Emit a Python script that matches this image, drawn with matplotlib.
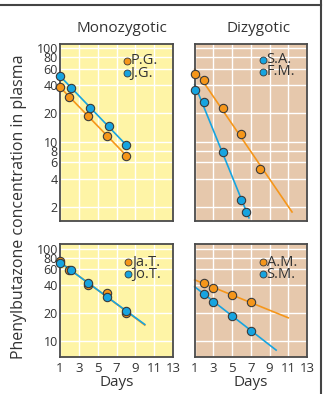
import numpy as np
import matplotlib
matplotlib.use("Agg")
import matplotlib.pyplot as plt
from matplotlib.lines import Line2D

plt.rcParams['font.family'] = ['Open Sans', 'DejaVu Sans']

# ---- data ----
# Monozygotic pair 1
pg_days = [1, 2, 4, 6, 8]
pg_vals = [38, 30, 18.8, 11.6, 7.1]
jg_days = [1, 2.2, 4.2, 6.2, 8]
jg_vals = [50, 37.4, 23.0, 14.7, 9.1]
# Dizygotic pair 1
sa_days = [1, 2, 4, 6, 8]
sa_vals = [52.8, 45.5, 22.6, 11.9, 5.1]
fm_days = [1, 2, 4, 6, 6.5]
fm_vals = [35.8, 26.5, 7.7, 2.4, 1.75]
# Monozygotic pair 2
jat_days = [1, 2, 4, 6, 8]
jat_vals = [73.5, 59, 40.6, 33, 20.1]
jot_days = [1, 2.2, 4, 6, 8]
jot_vals = [70, 59, 42.7, 29.9, 21.2]
# Dizygotic pair 2
am_days = [2, 3, 5, 7]
am_vals = [42.4, 37.4, 31.4, 26.1]
sm_days = [2, 3, 5, 7]
sm_vals = [32.4, 26.5, 18.8, 12.9]

# trend-line day ranges
pg_line = [1, 8]
jg_line = [1, 8]
sa_line = [1, 11.4]
fm_line = [1, 6.8]
jat_line = [1, 10]
jot_line = [1, 10]
am_line = [1, 11]
sm_line = [1, 9.7]

xticks = [1, 3, 5, 7, 9, 11, 13]
top_yticks = [2, 4, 6, 8, 10, 20, 40, 60, 80, 100]
bot_yticks = [10, 20, 40, 60, 80, 100]

ORANGE = '#F5961A'
BLUE = '#16A4E0'
YELLOW = '#FEF4A6'
TAN = '#E6C8AC'
EDGE = '#3a3a3a'

W, H = 325, 394
fig = plt.figure(figsize=(W / 100, H / 100), dpi=100)


def add_ax(x0, y0, x1, y1):
    return fig.add_axes([x0 / W, 1 - y1 / H, (x1 - x0) / W, (y1 - y0) / H])


def style(ax, bg, yticks, ylim, show_y, show_x):
    ax.set_facecolor(bg)
    ax.set_yscale('log')
    ax.set_xlim(1, 13)
    ax.set_ylim(*ylim)
    ax.set_xticks(xticks)
    ax.set_yticks(yticks)
    ax.yaxis.set_minor_locator(matplotlib.ticker.NullLocator())
    ax.set_yticklabels([str(t) for t in yticks] if show_y else [])
    ax.set_xticklabels([str(t) for t in xticks] if show_x else [])
    ax.tick_params(axis='y', length=0, pad=1.5, labelsize=9, colors='#333333')
    ax.tick_params(axis='x', length=0, pad=4, labelsize=9.5, colors='#333333')
    ax.grid(True, color='white', linewidth=1.0)
    ax.set_axisbelow(True)
    for s in ax.spines.values():
        s.set_color('#4a4a4a')
        s.set_linewidth(1.3)


def series(ax, days, vals, line_rng, color):
    d = np.array(days, float)
    lv = np.log10(np.array(vals, float))
    m, b = np.polyfit(d, lv, 1)
    xl = np.array(line_rng, float)
    ax.plot(xl, 10 ** (m * xl + b), color=color, lw=1.2, zorder=2, clip_on=False)
    ax.plot(days, vals, 'o', color=color, mec=EDGE, mew=0.8, ms=6, zorder=3, clip_on=False)


def legend(ax, labels, colors, x, y0, dy):
    for i, (lab, c) in enumerate(zip(labels, colors)):
        yy = y0 - i * dy
        ax.plot([x], [yy], 'o', color=c, mec=EDGE, mew=0.6, ms=5,
                transform=ax.transAxes, clip_on=False, zorder=4)
        ax.text(x + 0.035, yy, lab, transform=ax.transAxes, fontsize=10.5,
                va='center', ha='left', color='#333333')


top_ylim = (1.42, 110)
bot_ylim = (6.7, 113)

ax1 = add_ax(60, 44, 173, 221)
style(ax1, YELLOW, top_yticks, top_ylim, True, False)
series(ax1, pg_days, pg_vals, pg_line, ORANGE)
series(ax1, jg_days, jg_vals, jg_line, BLUE)
legend(ax1, ['P.G.', 'J.G.'], [ORANGE, BLUE], 0.59, 0.904, 0.068)

ax2 = add_ax(194.7, 44, 307, 221)
style(ax2, TAN, top_yticks, top_ylim, False, False)
series(ax2, sa_days, sa_vals, sa_line, ORANGE)
series(ax2, fm_days, fm_vals, fm_line, BLUE)
legend(ax2, ['S.A.', 'F.M.'], [BLUE, BLUE], 0.605, 0.91, 0.068)

ax3 = add_ax(60, 244, 173, 356.7)
style(ax3, YELLOW, bot_yticks, bot_ylim, True, True)
series(ax3, jat_days, jat_vals, jat_line, ORANGE)
series(ax3, jot_days, jot_vals, jot_line, BLUE)
legend(ax3, ['Ja.T.', 'Jo.T.'], [ORANGE, BLUE], 0.605, 0.84, 0.11)
ax3.set_xlabel('Days', fontsize=11, labelpad=0, color='#333333')

ax4 = add_ax(194.7, 244, 307, 356.7)
style(ax4, TAN, bot_yticks, bot_ylim, False, True)
series(ax4, am_days, am_vals, am_line, ORANGE)
series(ax4, sm_days, sm_vals, sm_line, BLUE)
legend(ax4, ['A.M.', 'S.M.'], [ORANGE, BLUE], 0.605, 0.84, 0.11)
ax4.set_xlabel('Days', fontsize=11, labelpad=0, color='#333333')

fig.text(122 / W, 1 - 29 / H, 'Monozygotic', ha='center', va='center', fontsize=11, color='#333333')
fig.text(259 / W, 1 - 29 / H, 'Dizygotic', ha='center', va='center', fontsize=11, color='#333333')
fig.text(19 / W, 1 - 207 / H, 'Phenylbutazone concentration in plasma', rotation=90,
         ha='center', va='center', fontsize=11.5, color='#333333')

# frame lines
fig.add_artist(Line2D([0, 321 / W], [1 - 5 / H, 1 - 5 / H], transform=fig.transFigure,
                      color='#444444', lw=1.5))
fig.add_artist(Line2D([321 / W, 321 / W], [0, 1], transform=fig.transFigure,
                      color='#444444', lw=1.5))

fig.savefig('out.png', dpi=100)
